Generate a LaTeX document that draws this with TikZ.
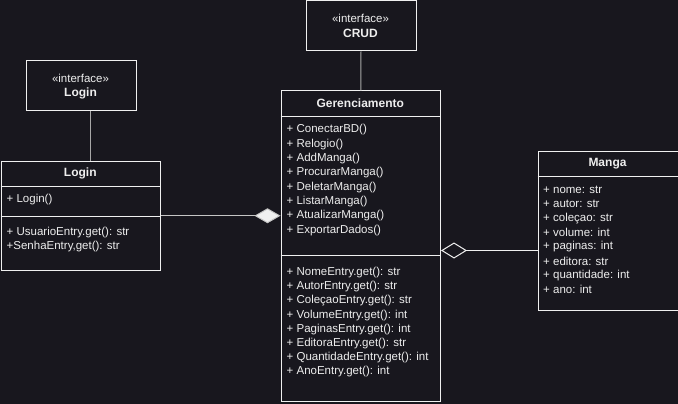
\documentclass[tikz,border=0pt]{standalone}
\usepackage{fontspec}
\setmainfont{Liberation Sans}
\usetikzlibrary{arrows.meta}
\definecolor{bg}{HTML}{18171E}
\definecolor{fg}{HTML}{F0F0F0}
\definecolor{txt}{HTML}{EEEEEE}
\definecolor{connc}{HTML}{A8A8A8}
\begin{document}
\begin{tikzpicture}[x=1pt,y=-1pt,
  box/.style={draw=fg, line width=1pt, fill=bg, inner sep=0, anchor=north west},
  mem/.style={text=txt, font=\fontsize{11.5}{13}\selectfont, anchor=west, inner sep=0},
  head/.style={text=txt, font=\bfseries\fontsize{12}{14}\selectfont, inner sep=0},
  stereo/.style={text=txt, font=\fontsize{11.5}{13}\selectfont, inner sep=0},
  sepline/.style={draw=fg, line width=1pt},
  conn/.style={draw=connc, line width=1pt}]
\fill[bg] (0,0) rectangle (678,404);
\useasboundingbox (0,0) rectangle (678,404);

% boxes
\node[box, minimum width=110pt, minimum height=50pt] (crud) at (305.5,0.5) {};
\node[box, minimum width=110pt, minimum height=50pt] (ilogin) at (25.5,60) {};
\node[box, minimum width=159.5pt, minimum height=109.5pt] (login) at (0.5,160.5) {};
\node[box, minimum width=159.5pt, minimum height=310pt] (ger) at (280.5,90.5) {};
\node[box, minimum width=140pt, minimum height=159.5pt] (manga) at (537.5,150.5) {};

% compartments
\draw[sepline] (0.5,186.5) -- (160,186.5);
\draw[sepline] (0.5,216) -- (160,216);
\draw[sepline] (280.5,116.5) -- (440,116.5);
\draw[sepline] (280.5,255) -- (440,255);
\draw[sepline] (537.5,176) -- (677.5,176);

% interface texts
\node[stereo] (crudst) at (360.5,18) {«interface»};
\node[head] (crudnm) at (360.5,33.5) {CRUD};
\node[stereo] (ilogst) at (80.5,78) {«interface»};
\node[head] (ilognm) at (80.5,93.5) {Login};

% headers
\node[head] (loginh) at (80.25,173.5) {Login};
\node[head] (gerh) at (360.25,103.5) {Gerenciamento};
\node[head] (mangah) at (607.5,163.5) {Manga};

% Login members
\node[mem] (l1) at (6.5,200) {+ Login()};
\node[mem] (l2) at (6.5,233) {+ UsuarioEntry.get(): str};
\node[mem] (l3) at (6.5,247) {+SenhaEntry,get(): str};

% Gerenciamento members
\foreach \t [count=\i from 0] in {ConectarBD(),Relogio(),AddManga(),ProcurarManga(),DeletarManga(),ListarManga(),AtualizarManga(),ExportarDados()}
  \node[mem] (ga\i) at (286.5,130+14.3*\i) {+ \t};
\foreach \t [count=\i from 0] in {NomeEntry.get(): str,AutorEntry.get(): str,ColeçaoEntry.get(): str,VolumeEntry.get(): int,PaginasEntry.get(): int,EditoraEntry.get(): str,QuantidadeEntry.get(): int,AnoEntry.get(): int}
  \node[mem] (gb\i) at (286.5,272.5+14.2*\i) {+ \t};

% Manga members
\foreach \t [count=\i from 0] in {nome: str,autor: str,coleçao: str,volume: int,paginas: int,editora: str,quantidade: int,ano: int}
  \node[mem] (m\i) at (543,190+14.2*\i) {+ \t};

% connectors
\draw[conn] (crud.south) -- (ger.north);
\draw[conn] ([xshift=9.5pt]ilogin.south) -- ([xshift=9.75pt]login.north);
\draw[draw=connc!60!fg, line width=1pt, -{Diamond[fill=fg, length=26pt, width=15pt]}] (login.east) -- (login.east -| ger.west);
\draw[draw=fg, line width=1pt, {Diamond[fill=bg, length=26pt, width=16pt]}-] ([yshift=-4.5pt]ger.east) -- ([yshift=-4.5pt]ger.east -| manga.west);
\end{tikzpicture}
\end{document}
